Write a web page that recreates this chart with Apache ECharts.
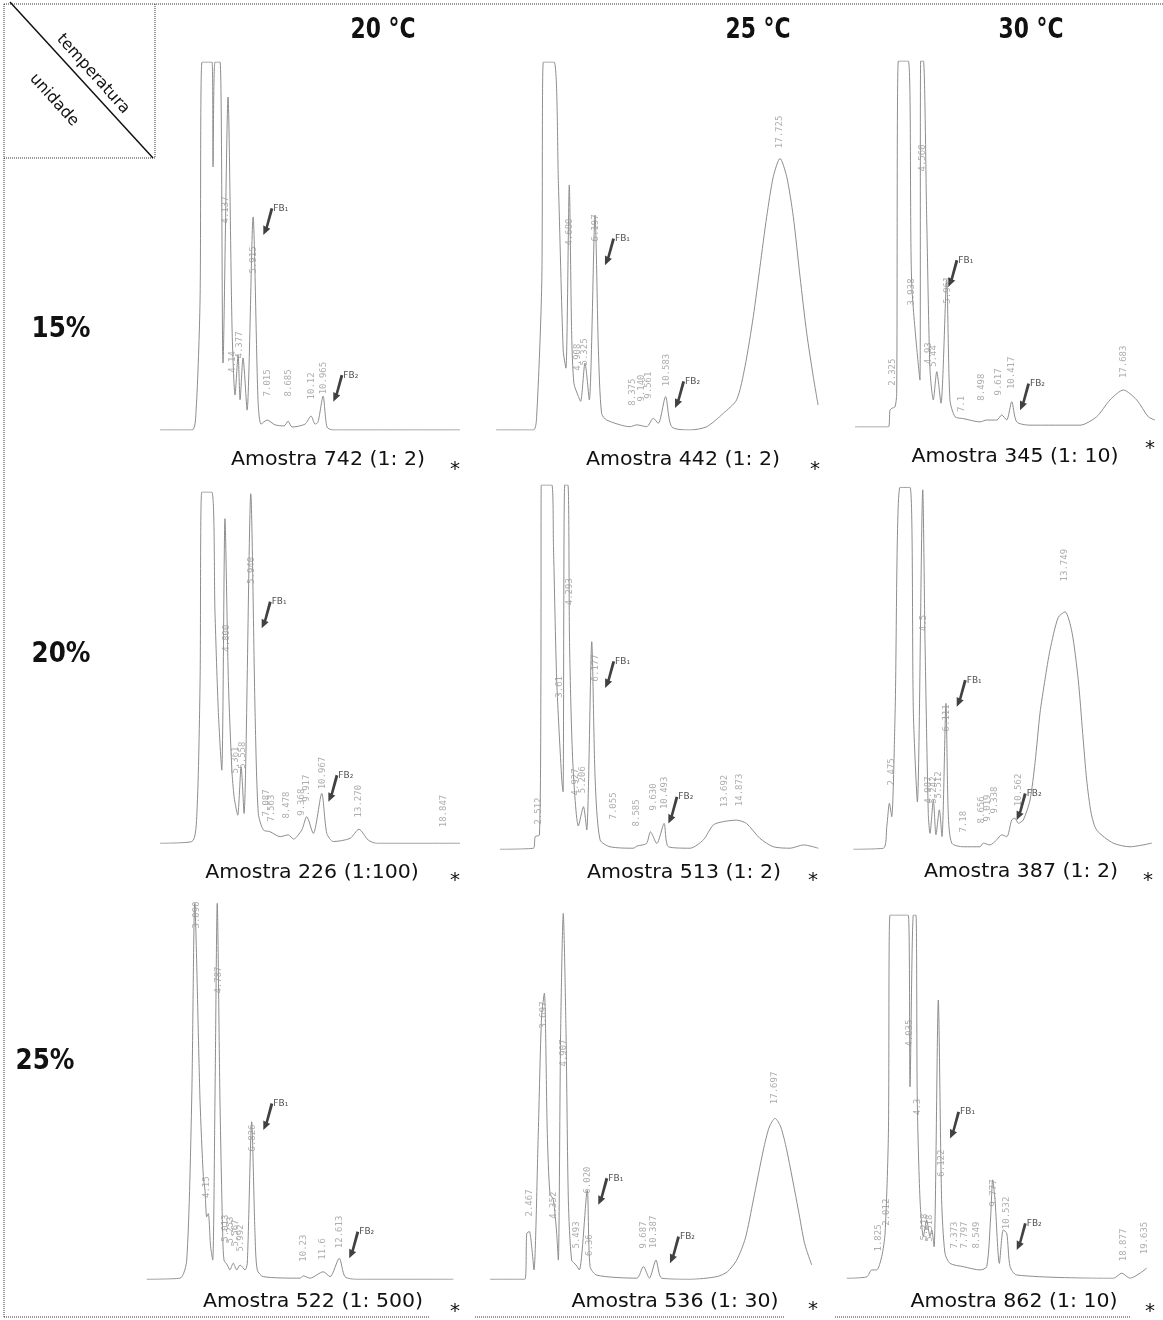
<!DOCTYPE html>
<html><head><meta charset="utf-8">
<script src="https://cdn.jsdelivr.net/npm/echarts@6/dist/echarts.min.js"></script>
<style>html,body{margin:0;padding:0;background:#fff}#c{width:1163px;height:1320px}</style>
</head><body><div id="c"></div>
<script>
// ---------- DATA ----------
const temperatures = ['20 °C', '25 °C', '30 °C'];
const humidities = ['15%', '20%', '25%'];
const samples = [
  'Amostra 742 (1: 2)', 'Amostra 442 (1: 2)', 'Amostra 345 (1: 10)',
  'Amostra 226 (1:100)', 'Amostra 513 (1: 2)', 'Amostra 387 (1: 2)',
  'Amostra 522 (1: 500)', 'Amostra 536 (1: 30)', 'Amostra 862 (1: 10)'
];
// chromatogram traces: [retention time (min), relative response (100 = full scale)]
const trace11 = [[-0.79,0],[1.5,0],[1.79,5.4],[2.07,35],[2.21,100],[2.93,100],[3.0,71.5],[3.14,100],[3.5,100],[3.71,18.2],[4.07,90.5],[4.36,27.2],[4.57,9.5],[4.79,20.4],[4.93,8.2],[5.14,19.6],[5.43,5.4],[5.86,57.9],[6.21,8.2],[6.43,1.6],[6.86,2.7],[7.43,1.4],[8.07,1.1],[8.36,2.4],[8.64,0.8],[9.57,1.6],[10.0,3.8],[10.29,1.6],[10.5,2.2],[10.86,9.2],[11.14,0.8],[11.57,0],[20.64,0]];
const trace12 = [[0,0],[2.33,0],[2.54,3.6],[2.86,40],[2.96,100],[3.63,100],[3.9,67],[4.2,21.7],[4.37,16.8],[4.58,66.6],[4.73,26],[4.87,12.7],[5.15,9.1],[5.29,7.8],[5.56,18.2],[5.83,8.2],[6.19,58.4],[6.4,21.7],[6.6,4.5],[6.92,2.7],[8.38,0.9],[8.79,1.4],[9.42,0.9],[9.83,3.2],[10.14,1.8],[10.6,9.1],[10.98,0.9],[12.13,0],[13.17,0.9],[14.2,4.5],[15.04,8.2],[15.56,17.2],[16.08,30.8],[16.5,44.4],[16.92,58],[17.33,68.8],[17.75,73.8],[18.17,68.8],[18.58,58],[19.0,41.7],[19.42,26.3],[19.83,14.5],[20.13,6.8]];
const trace13 = [[-0.2,0],[2.02,0],[2.13,4.6],[2.25,5.1],[2.47,5.5],[2.58,9.2],[2.69,100],[3.35,100],[3.58,39.2],[4.13,12.8],[4.18,100],[4.36,100],[4.58,57],[4.8,15.6],[5.02,7.4],[5.25,15.1],[5.53,6.5],[5.91,40.2],[6.13,7.4],[6.47,2.8],[7.02,2.3],[8.13,1.4],[8.58,1.9],[9.25,1.9],[9.58,3.3],[9.91,1.9],[10.25,6.9],[10.58,1.4],[11.47,0.5],[14.8,0.5],[15.91,2.8],[16.8,7.4],[17.69,10.1],[18.58,7.4],[19.35,2.8],[19.8,1.9]];
const trace21 = [[0.4,0],[2.47,0.5],[2.8,8.5],[3.01,46.4],[3.12,100],[3.77,100],[3.98,65.6],[4.2,37.2],[4.42,20.8],[4.63,92.4],[4.85,46.4],[5.08,20.8],[5.22,13.3],[5.35,10],[5.46,8],[5.68,21.8],[5.87,8.5],[6.31,99.5],[6.59,37.2],[6.8,8.5],[7.13,3.8],[7.56,3.3],[8.22,1.9],[8.75,2.4],[9.09,1.2],[9.63,3.8],[9.95,7.6],[10.38,2.8],[10.93,14.2],[11.26,2.8],[11.69,0.5],[12.77,1.4],[13.35,4],[13.96,0.9],[14.5,0],[19.93,0]];
const trace22 = [[0.18,0],[2.23,0.3],[2.34,3.5],[2.6,3.9],[2.69,46.4],[2.71,100],[3.36,100],[3.46,83.4],[3.66,46.4],[3.97,19],[4.05,15.8],[4.15,100],[4.35,100],[4.45,55.7],[4.65,23.6],[4.99,6.4],[5.3,11.7],[5.5,5.3],[5.81,57],[6.02,19],[6.32,2.6],[6.93,0.7],[8.36,0.3],[8.59,0.9],[9.17,1.6],[9.41,4.8],[9.8,1.6],[10.25,7.1],[10.51,0.7],[11.84,0.3],[12.66,2.6],[13.27,6.7],[13.88,7.6],[14.69,8],[15.3,7.1],[16.13,3],[16.95,0.7],[17.98,0.3],[18.8,1.2],[19.71,0.3]];
const trace23 = [[-0.03,0],[1.93,0.3],[2.15,6.3],[2.32,12.7],[2.47,9],[2.69,37.6],[3.01,100],[3.66,100],[3.88,37.6],[4.14,13.1],[4.49,99.3],[4.64,56.8],[4.85,9.9],[4.96,4.4],[5.18,13.6],[5.35,4],[5.57,10.9],[5.74,3.5],[6.0,40.3],[6.15,9.9],[6.38,1.7],[7.13,0.7],[8.21,0.7],[8.43,1.7],[8.86,1.2],[9.3,2.6],[9.63,4],[9.96,3.5],[10.28,8.1],[10.49,8.6],[10.71,7.2],[11.03,8.1],[11.47,13.6],[11.8,24],[12.12,37.6],[12.45,47],[12.77,55],[13.3,64],[13.75,65.6],[14.2,60],[14.61,46.8],[14.9,32],[15.16,19.1],[15.45,10],[15.81,5.3],[16.89,1.7],[17.98,0.7],[19.39,1.7]];
const trace31 = [[-0.15,0],[2.05,0.3],[2.5,5.1],[2.83,47.7],[3.03,100],[3.38,47.7],[3.6,27.3],[3.71,23.7],[3.82,16.6],[3.93,17.5],[4.08,8.7],[4.22,5.1],[4.37,47.7],[4.52,100],[4.7,47.7],[4.88,12.2],[4.97,5.1],[5.19,3.8],[5.36,2.5],[5.58,4.3],[5.81,2.5],[6.03,3.8],[6.36,2.5],[6.51,4.3],[6.8,41.9],[7.02,12.2],[7.17,2.5],[7.57,0.7],[10,0.3],[10.22,0.9],[10.66,0.3],[11.54,2],[11.99,0.7],[12.6,5.6],[12.98,0.7],[13.76,0],[20.15,0]];
const trace32 = [[0.36,0],[2.49,0],[2.6,12.2],[2.76,12.7],[2.9,8.7],[3.04,2.5],[3.3,38.8],[3.5,69.8],[3.67,76.1],[3.85,38.8],[4.01,22.9],[4.22,21.1],[4.42,12.2],[4.52,5.1],[4.66,65.4],[4.82,97.3],[4.99,65.4],[5.13,21.1],[5.33,5.1],[5.6,3.8],[5.8,2.5],[6.28,23.7],[6.45,3.4],[6.86,1.1],[9.29,0.3],[9.69,3.4],[10.06,0.3],[10.46,5.1],[10.81,0.3],[12.53,0],[14.15,0.7],[14.8,2],[15.37,5.1],[15.9,11],[16.38,21.1],[16.99,34.4],[17.35,40.5],[17.7,42.8],[18.05,40.5],[18.41,34.4],[19.12,18.4],[19.5,9.5],[19.93,3.8]];
const trace33 = [[-0.37,0],[1.02,0.4],[1.36,2.3],[1.7,2.3],[2.05,6],[2.28,12.4],[2.51,39.9],[2.62,100],[3.88,100],[4.0,52.7],[4.23,100],[4.41,100],[4.5,49.1],[4.69,21.6],[4.92,11.5],[5.15,16],[5.38,11.5],[5.5,13.3],[5.66,8.7],[5.95,76.6],[6.18,21.6],[6.41,6.9],[6.76,4.1],[7.68,3.2],[8.83,2.3],[9.29,3.2],[9.56,16.9],[9.7,27.1],[9.86,21.6],[10.16,4.1],[10.43,13.3],[10.67,12.4],[10.9,3.2],[11.36,0.9],[18.02,0],[18.6,1.4],[19.17,0],[19.86,1.4],[20.32,2.8]];

// retention-time annotations: [time, anchor height, text]
const labels11 = [[3.93,59.8,'4.137'],[4.43,18.5,'4.14'],[4.93,23.1,'4.377'],[5.88,46.2,'5.915'],[6.88,12.8,'7.015'],[8.38,12.8,'8.685'],[10.05,12,'10.12'],[10.93,14.1,'10.965']];
const labels12 = [[4.58,53.8,'4.680'],[5.08,19.8,'4.908'],[5.56,21.2,'5.325'],[6.25,54.9,'6.197'],[8.56,10.3,'8.375'],[9.11,11.4,'9.140'],[9.55,12.2,'9.561'],[10.67,16.3,'10.583'],[17.75,81,'17.725']];
const labels13 = [[2.33,15,'2.325'],[3.58,36.9,'3.938'],[4.31,73.5,'4.560'],[4.69,20.2,'4.93'],[5.02,19.4,'5.44'],[5.95,37.4,'5.961'],[6.91,6.3,'7.1'],[8.25,10.9,'8.498'],[9.35,12.3,'9.617'],[10.25,14.8,'10.417'],[17.69,17.8,'17.683']];
const labels21 = [[4.75,58.4,'4.800'],[5.35,23.7,'5.361'],[5.81,25.1,'5.558'],[6.37,77.7,'5.940'],[7.35,11.5,'7.087'],[7.68,10,'7.563'],[8.65,10.9,'8.478'],[9.63,11.7,'9.368'],[9.95,15.7,'9.917'],[10.97,20,'10.967'],[13.36,12,'13.270'],[18.85,9.2,'18.847']];
const labels22 = [[2.53,10.5,'2.512'],[3.82,44.6,'3.61'],[4.48,70.7,'4.293'],[4.85,18.5,'4.927'],[5.28,19.1,'5.206'],[6.07,49.8,'6.177'],[7.13,11.9,'7.055'],[8.57,10,'8.585'],[9.59,14.4,'9.630'],[10.31,15.5,'10.493'],[13.99,16,'13.692'],[14.91,16.3,'14.873']];
const labels23 = [[2.47,21.4,'2.475'],[4.57,62.5,'4.5'],[4.9,16.4,'4.987'],[5.22,16.4,'5.242'],[5.55,17.8,'5.512'],[6.05,36.3,'6.111'],[7.13,7.6,'7.18'],[8.33,10.9,'8.656'],[8.74,11.4,'9.019'],[9.19,13.6,'9.338'],[10.71,16.4,'10.562'],[13.75,78.5,'13.749']];
const labels31 = [[3.16,96.9,'3.090'],[3.84,24.5,'4.15'],[4.59,79.6,'4.787'],[5.1,13.6,'5.013'],[5.43,13.1,'5.253'],[5.76,12.3,'5.567'],[6.09,11,'5.992'],[6.87,37.6,'6.826'],[10.22,8.3,'10.23'],[11.5,8.1,'11.6'],[12.6,12.6,'12.613']];
const labels32 = [[2.8,20.3,'2.467'],[3.61,70.3,'3.697'],[4.22,19.7,'4.352'],[4.87,60.2,'4.907'],[5.64,11.8,'5.493'],[6.28,26.4,'6.020'],[6.45,9.1,'6.36'],[9.69,11.8,'9.687'],[10.3,12.6,'10.387'],[17.7,50.9,'17.697']];
const labels33 = [[1.81,11.1,'1.825'],[2.39,18.2,'2.012'],[4.0,67.5,'4.035'],[4.5,47.2,'4.3'],[5.03,14.1,'5.218'],[5.38,13.8,'5.518'],[6.19,31.7,'6.122'],[7.1,11.9,'7.373'],[7.79,11.9,'7.797'],[8.6,11.9,'8.549'],[9.74,23.5,'9.777'],[10.67,18,'10.532'],[18.71,9.2,'18.877'],[20.15,11.1,'19.635']];

// FB1 / FB2 arrow tips: [time, height, name]
const fb11 = [[6.59,53,'FB₁'],[11.59,7.7,'FB₂']];
const fb12 = [[6.81,44.8,'FB₁'],[11.19,6,'FB₂']];
const fb13 = [[6.02,38.3,'FB₁'],[10.8,4.6,'FB₂']];
const fb21 = [[7.02,61.2,'FB₁'],[11.36,11.8,'FB₂']];
const fb22 = [[6.63,44.3,'FB₁'],[10.51,7.1,'FB₂']];
const fb23 = [[6.7,39.4,'FB₁'],[10.6,8.1,'FB₂']];
const fb31 = [[7.57,39.7,'FB₁'],[13.26,5.6,'FB₂']];
const fb32 = [[6.95,19.8,'FB₁'],[11.31,4.3,'FB₂']];
const fb33 = [[6.76,38.5,'FB₁'],[11.36,7.8,'FB₂']];

// ---------- LAYOUT ----------
const panels = [
  {tr:trace11, lb:labels11, fb:fb11, g:{left:160, top:62, width:300, height:368}, x:[-0.79,20.64]},
  {tr:trace12, lb:labels12, fb:fb12, g:{left:496, top:62, width:322, height:368}, x:[0,20.125]},
  {tr:trace13, lb:labels13, fb:fb13, g:{left:855, top:61, width:300, height:366}, x:[-0.2,19.8]},
  {tr:trace21, lb:labels21, fb:fb21, g:{left:160, top:492, width:300, height:351.3}, x:[0.4,19.93]},
  {tr:trace22, lb:labels22, fb:fb22, g:{left:500, top:485, width:318.3, height:364.3}, x:[0.18,19.71]},
  {tr:trace23, lb:labels23, fb:fb23, g:{left:853.3, top:487.3, width:298.4, height:362}, x:[-0.03,19.39]},
  {tr:trace31, lb:labels31, fb:fb31, g:{left:146.7, top:903.3, width:306.6, height:376}, x:[-0.15,20.15]},
  {tr:trace32, lb:labels32, fb:fb32, g:{left:490, top:903.3, width:321.7, height:376}, x:[0.365,19.93]},
  {tr:trace33, lb:labels33, fb:fb33, g:{left:846.7, top:915, width:300, height:363.3}, x:[-0.366,20.32]}
];
const captionPos = [[328,460],[683,460],[1015,457],[312,873],[684,873],[1021,872],[313,1302],[675,1302],[1014,1302]];
const starPos = [[455,470],[815,470],[1150,449],[455,881],[813,881],[1148,881],[455,1312],[813,1310],[1150,1312]];
const headPos = [[383,31],[758,31],[1031,31]];
const rowPos = [[61,330],[61,655],[45,1062]];

const arrowPath = 'path://M7.2,0 L10,0.9 L4.6,19.9 L7,20.7 L0,27 L0,17.4 L2.3,18.7 Z';
const chart = echarts.init(document.getElementById('c'), null, {renderer:'canvas'});
const grid = [], xAxis = [], yAxis = [], series = [];
panels.forEach((p, i) => {
  grid.push(Object.assign({containLabel:false}, p.g));
  xAxis.push({type:'value', gridIndex:i, min:p.x[0], max:p.x[1], show:false});
  yAxis.push({type:'value', gridIndex:i, min:0, max:100, show:false});
  series.push({type:'line', xAxisIndex:i, yAxisIndex:i, data:p.tr, showSymbol:false, smooth:0.25,
    lineStyle:{color:'#8d8d8d', width:1}, silent:true, z:2});
  series.push({type:'scatter', xAxisIndex:i, yAxisIndex:i, data:p.lb, symbolSize:1, silent:true, z:3,
    itemStyle:{color:'rgba(0,0,0,0)'},
    label:{show:true, position:'inside', rotate:90, formatter:q=>q.data[2], fontSize:9,
      fontFamily:'DejaVu Sans Mono', color:'#999'}});
  series.push({type:'scatter', xAxisIndex:i, yAxisIndex:i, data:p.fb, symbol:arrowPath,
    symbolSize:[10,27], symbolOffset:[5,-13.5], silent:true, z:4, itemStyle:{color:'#111'},
    label:{show:true, position:'right', distance:0, offset:[0,-13], formatter:q=>q.data[2],
      fontSize:9, fontFamily:'DejaVu Sans', color:'#222'}});
});

const dot = {stroke:'#333', lineWidth:1, lineDash:[1,1]};
const graphic = [];
const txt = (x, y, text, font, extra) => Object.assign({type:'text', x:x, y:y, silent:true,
  style:{text:text, x:0, y:0, font:font, fill:'#111', align:'center', verticalAlign:'middle',
    textAlign:'center', textVerticalAlign:'middle'}}, extra || {});
temperatures.forEach((t, i) => graphic.push(txt(headPos[i][0], headPos[i][1], t, 'bold 28px "DejaVu Sans"', {scaleX:0.78})));
humidities.forEach((h, i) => graphic.push(txt(rowPos[i][0], rowPos[i][1], h, 'bold 28px "DejaVu Sans"', {scaleX:0.88})));
samples.forEach((s, i) => {
  graphic.push(txt(captionPos[i][0], captionPos[i][1], s, '19px "DejaVu Sans"', {scaleX:1.08}));
  graphic.push(txt(starPos[i][0], starPos[i][1], '*', '20px "DejaVu Sans"'));
});
// frame
graphic.push({type:'line', silent:true, shape:{x1:4, y1:4, x2:1163, y2:4}, style:dot});
graphic.push({type:'line', silent:true, shape:{x1:4, y1:4, x2:4, y2:1317}, style:dot});
graphic.push({type:'line', silent:true, shape:{x1:4, y1:1317, x2:430, y2:1317}, style:dot});
graphic.push({type:'line', silent:true, shape:{x1:475, y1:1317, x2:785, y2:1317}, style:dot});
graphic.push({type:'line', silent:true, shape:{x1:835, y1:1317, x2:1130, y2:1317}, style:dot});
graphic.push({type:'line', silent:true, shape:{x1:155, y1:4, x2:155, y2:158}, style:dot});
graphic.push({type:'line', silent:true, shape:{x1:4, y1:158, x2:155, y2:158}, style:dot});
graphic.push({type:'line', silent:true, shape:{x1:10, y1:2, x2:153, y2:158}, style:{stroke:'#111', lineWidth:1.5}});
graphic.push(txt(93, 74, 'temperatura', '16px "DejaVu Sans"', {rotation:-0.84}));
graphic.push(txt(54, 100, 'unidade', '16px "DejaVu Sans"', {rotation:-0.84}));

chart.setOption({animation:false, backgroundColor:'#fff', grid, xAxis, yAxis, series, graphic});
</script></body></html>
